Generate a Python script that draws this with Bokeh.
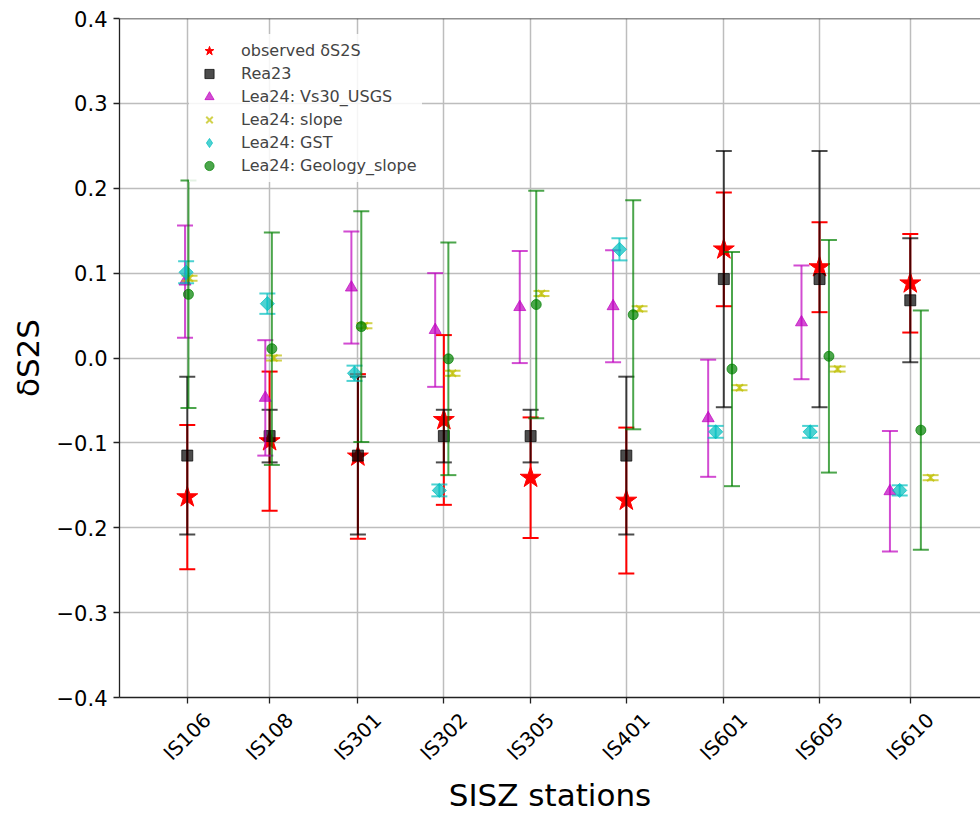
import math
from bokeh.plotting import figure
from bokeh.models import (FixedTicker, Legend, LegendItem, Span, ColumnDataSource,
                          LinearAxis, Range1d)
from bokeh.embed import file_html
from bokeh.resources import INLINE

# ---------------- data ----------------
stations = ["IS106", "IS108", "IS301", "IS302", "IS305", "IS401", "IS601", "IS605", "IS610"]
station_x = [1.0, 1.911, 2.888, 3.839, 4.799, 5.858, 6.937, 7.996, 9.0]

obs = [-0.164, -0.098, -0.116, -0.073, -0.141, -0.168, 0.128, 0.107, 0.088]
obs_err = [0.085, 0.082, 0.097, 0.100, 0.071, 0.086, 0.067, 0.053, 0.058]

rea23 = [-0.115, -0.092, -0.115, -0.092, -0.092, -0.115, 0.093, 0.093, 0.068]
rea23_err = [0.093, 0.031, 0.093, 0.031, 0.031, 0.093, 0.151, 0.151, 0.073]

vs30 = [0.090, -0.047, 0.083, 0.033, 0.060, 0.061, -0.071, 0.042, -0.157]
vs30_err = [0.066, 0.068, 0.066, 0.067, 0.066, 0.066, 0.069, 0.067, 0.071]

slope = [0.094, 0.000, 0.038, -0.018, 0.076, 0.058, -0.035, -0.013, -0.141]
slope_err = [0.003, 0.003, 0.003, 0.003, 0.003, 0.003, 0.003, 0.003, 0.003]

gst = [0.101, 0.064, -0.018, -0.156, None, 0.128, -0.087, -0.087, -0.156]
gst_err = [0.013, 0.012, 0.009, 0.007, None, 0.013, 0.007, 0.007, 0.006]

geo = [0.075, 0.011, 0.037, -0.001, 0.063, 0.051, -0.013, 0.002, -0.085]
geo_err = [0.134, 0.137, 0.136, 0.137, 0.134, 0.135, 0.138, 0.137, 0.141]

y_ticks = [-0.4, -0.3, -0.2, -0.1, 0.0, 0.1, 0.2, 0.3, 0.4]

FONT = "DejaVu Sans"
X0, X1 = 0.25, 9.777
LABEL_SHIFT = 0.221  # centres the rotated station labels under their ticks

p = figure(width=980, height=816, x_range=(X0, X1), y_range=(-0.4, 0.4),
           output_backend="svg", toolbar_location=None,
           min_border_left=119, min_border_right=0, min_border_top=18, min_border_bottom=119)
p.outline_line_color = None
p.background_fill_color = "white"
p.extra_x_ranges = {"lab": Range1d(X0 - LABEL_SHIFT, X1 - LABEL_SHIFT)}

# grid
p.xgrid.ticker = FixedTicker(ticks=station_x)
p.ygrid.ticker = FixedTicker(ticks=y_ticks)
for g in (p.xgrid, p.ygrid):
    g.grid_line_color = "#bdbdbd"
    g.grid_line_width = 1.5

# main x axis: line + tick marks
p.xaxis.ticker = FixedTicker(ticks=station_x)
p.xaxis.major_label_overrides = {x: "" for x in station_x}
p.xaxis.major_label_text_font_size = "0px"
p.xaxis.major_label_standoff = 0

# y axis
p.yaxis.ticker = FixedTicker(ticks=y_ticks)
p.yaxis.major_label_overrides = {t: ("\u2212%.1f" % abs(t) if t < 0 else "%.1f" % t) for t in y_ticks}
p.yaxis.major_label_text_font = FONT
p.yaxis.major_label_text_font_size = "21px"
p.yaxis.major_label_standoff = 6
p.yaxis.axis_label = "\u03b4S2S"
p.yaxis.axis_label_text_font = FONT
p.yaxis.axis_label_text_font_size = "31px"
p.yaxis.axis_label_text_font_style = "normal"
p.yaxis.axis_label_standoff = 8
for ax in (p.xaxis, p.yaxis):
    ax.axis_line_color = "#222222"
    ax.axis_line_width = 1.3
    ax.major_tick_line_color = "#222222"
    ax.major_tick_line_width = 1.3
    ax.major_tick_out = 6
    ax.major_tick_in = 0
    ax.minor_tick_line_color = None
    ax.major_label_text_color = "black"
    ax.axis_label_text_color = "black"

# station labels axis (rotated labels)
lab_axis = LinearAxis(x_range_name="lab", ticker=FixedTicker(ticks=station_x),
                      major_label_overrides={x: n for x, n in zip(station_x, stations)},
                      major_label_orientation=math.pi / 4,
                      major_label_text_font=FONT, major_label_text_font_size="20px",
                      major_label_text_color="black", major_label_standoff=13,
                      axis_line_color=None, major_tick_line_color=None,
                      minor_tick_line_color=None, major_tick_out=0, major_tick_in=0,
                      axis_label="SISZ stations", axis_label_text_font=FONT,
                      axis_label_text_font_size="31px", axis_label_text_font_style="normal",
                      axis_label_text_color="black", axis_label_standoff=0)
p.add_layout(lab_axis, "below")

# top spine
p.add_layout(Span(location=0.4, dimension="width", line_color="#222222", line_width=1.3))

series = [
    ("observed \u03b4S2S", obs, obs_err, 1.0, "star", "#ff0000", 1.0, 22, 0.0, "star"),
    ("Rea23", rea23, rea23_err, 1.0, "square", "#000000", 0.7, 11, 0.0, "square"),
    ("Lea24: Vs30_USGS", vs30, vs30_err, 0.975, "triangle", "#bf00bf", 0.7, 12, 0.0, "triangle"),
    ("Lea24: slope", slope, slope_err, 1.025, "x", "#bfbf00", 0.7, 10, 0.0, "x"),
    ("Lea24: GST", gst, gst_err, 0.987, "square", "#00bfbf", 0.7, 10, math.pi / 4, "diamond"),
    ("Lea24: Geology_slope", geo, geo_err, 1.013, "circle", "#008000", 0.7, 10, 0.0, "circle"),
]

items = []
for label, vals, errs, fac, marker, color, alpha, size, angle, leg_marker in series:
    xs, ys, lo, hi = [], [], [], []
    for sx, v, e in zip(station_x, vals, errs):
        if v is None:
            continue
        xs.append(sx * fac)
        ys.append(v)
        lo.append(v - e)
        hi.append(v + e)
    src = ColumnDataSource(dict(x=xs, y=ys, lo=lo, hi=hi))
    p.segment(x0="x", y0="lo", x1="x", y1="hi", source=src, line_color=color,
              line_alpha=alpha, line_width=2)
    p.scatter(x="x", y="lo", source=src, marker="dash", size=16, line_color=color,
              line_alpha=alpha, line_width=2)
    p.scatter(x="x", y="hi", source=src, marker="dash", size=16, line_color=color,
              line_alpha=alpha, line_width=2)
    lw = 2 if marker == "x" else 1
    r = p.scatter(x="x", y="y", source=src, marker=marker, size=size, angle=angle,
                  fill_color=color, fill_alpha=alpha, line_color=color, line_alpha=alpha,
                  line_width=lw)
    if leg_marker != marker:
        # legend swatch with the un-rotated diamond shape (its single point is NaN, so
        # nothing is drawn in the plot area)
        r = p.scatter(x=[float("nan")], y=[float("nan")], marker=leg_marker, size=size,
                      fill_color=color, fill_alpha=alpha, line_color=color,
                      line_alpha=alpha, line_width=lw)
    items.append(LegendItem(label=label, renderers=[r]))

legend = Legend(items=items, location=(70, 515), orientation="vertical",
                label_text_font=FONT, label_text_font_size="16px",
                glyph_width=30, glyph_height=23, label_height=18, spacing=0,
                padding=5, margin=0, label_standoff=17,
                background_fill_color="white", background_fill_alpha=0.85,
                border_line_alpha=0)
p.add_layout(legend)

open("out.html", "w").write(file_html(p, INLINE))
